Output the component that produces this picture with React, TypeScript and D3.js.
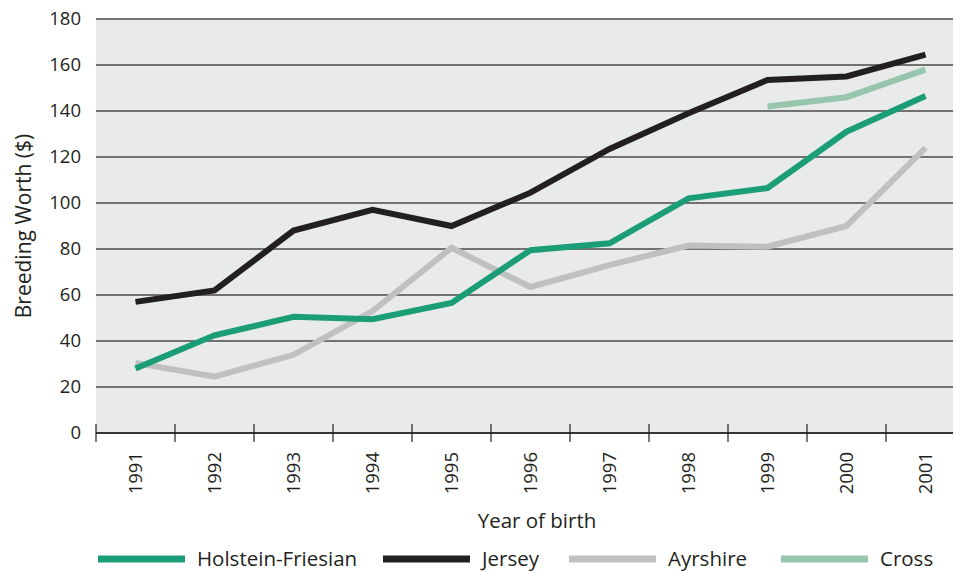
import React from "react";
import * as d3 from "d3";

const years = ["1991", "1992", "1993", "1994", "1995", "1996", "1997", "1998", "1999", "2000", "2001"];
const holstein = [28, 42.5, 50.5, 49.5, 56.5, 79.5, 82.5, 102, 106.5, 131, 146.5];
const jersey = [57, 62, 88, 97, 90, 104.5, 123.5, 139, 153.5, 155, 164.5];
const ayrshire = [30.5, 24.5, 34, 53, 80.5, 63.5, 73, 81.5, 81, 90, 124];
const cross: (number | null)[] = [null, null, null, null, null, null, null, null, 142, 146, 158];
const yTicks = [0, 20, 40, 60, 80, 100, 120, 140, 160, 180];

const series = [
  { name: "Holstein-Friesian", values: holstein, color: "#1b9e77" },
  { name: "Jersey", values: jersey, color: "#231f20" },
  { name: "Ayrshire", values: ayrshire, color: "#bfc0c1" },
  { name: "Cross", values: cross, color: "#97c5ae" },
];
const drawOrder = [2, 0, 3, 1];
const legendX = [98, 383, 569, 781];

const width = 954;
const height = 572;
const left = 96;
const right = 953;
const top = 19;
const bottom = 433;
const font = "'Open Sans', 'Noto Sans', sans-serif";

export default function App() {
  const x = d3.scaleBand<string>().domain(years).range([left, left + 11 * 79]);
  const y = d3.scaleLinear().domain([0, 180]).range([bottom, top]);

  const line = d3
    .line<number | null>()
    .defined((d) => d !== null)
    .x((_, i) => (x(years[i]) as number) + x.bandwidth() / 2)
    .y((d) => y(d as number));

  return (
    <svg
      width={width}
      height={height}
      style={{ position: "absolute", left: 0, top: 0, fontFamily: font }}
    >
      <rect x={left} y={top} width={right - left} height={bottom - top} fill="#e9eaea" />
      {yTicks.map((t) => (
        <g key={t}>
          <line x1={left} x2={right} y1={y(t)} y2={y(t)} stroke="#4a4a4a" strokeWidth={1.3} />
          <text x={81} y={y(t)} dy="0.35em" textAnchor="end" fontSize={18.5} fill="#231f20">
            {t}
          </text>
        </g>
      ))}
      {years.map((yr) => (
        <g key={yr}>
          <line x1={x(yr)} x2={x(yr)} y1={bottom - 9} y2={bottom + 9} stroke="#231f20" strokeWidth={1.2} />
          <text
            transform={`translate(${(x(yr) as number) + x.bandwidth() / 2 + 6},452) rotate(-90)`}
            textAnchor="end"
            fontSize={18.5}
            fill="#231f20"
          >
            {yr}
          </text>
        </g>
      ))}
      <line x1={left} x2={right} y1={bottom} y2={bottom} stroke="#231f20" strokeWidth={1.3} />
      {drawOrder.map((i) => (
        <path
          key={series[i].name}
          d={line(series[i].values) as string}
          fill="none"
          stroke={series[i].color}
          strokeWidth={6}
          strokeLinejoin="miter"
        />
      ))}
      <text
        transform={`translate(31,${(top + bottom) / 2}) rotate(-90)`}
        textAnchor="middle"
        fontSize={21}
        fill="#231f20"
      >
        Breeding Worth ($)
      </text>
      <text x={537} y={528} textAnchor="middle" fontSize={20.5} fill="#231f20">
        Year of birth
      </text>
      {series.map((s, i) => (
        <g key={s.name}>
          <line x1={legendX[i]} x2={legendX[i] + 87} y1={559} y2={559} stroke={s.color} strokeWidth={7} />
          <text x={legendX[i] + 99} y={566} fontSize={20.5} fill="#231f20">
            {s.name}
          </text>
        </g>
      ))}
    </svg>
  );
}
